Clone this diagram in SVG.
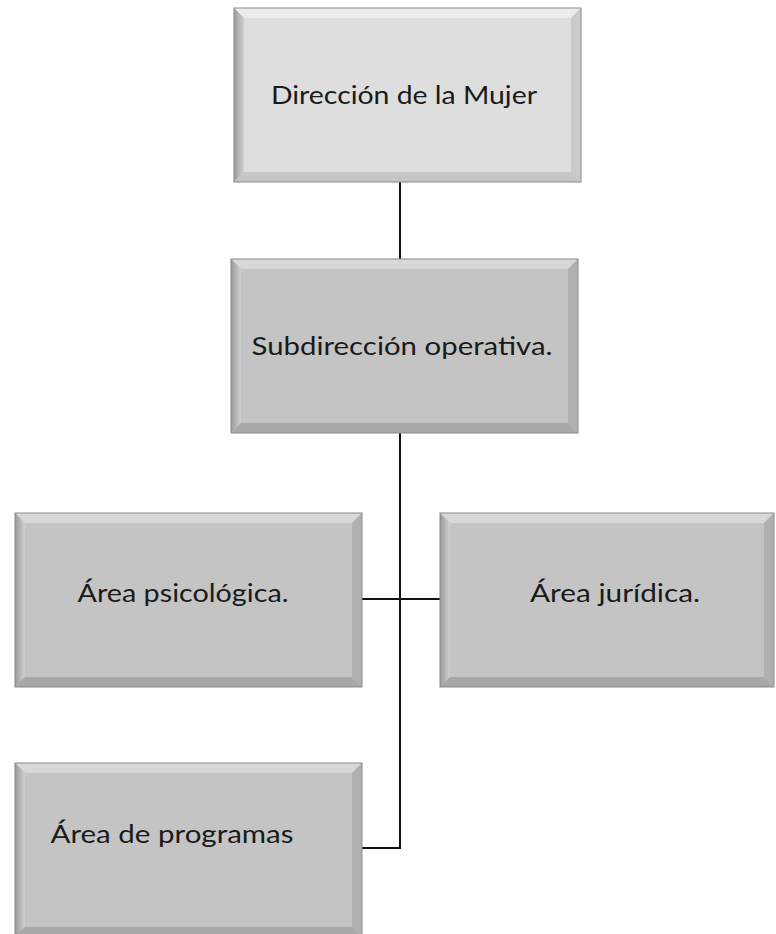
<svg xmlns="http://www.w3.org/2000/svg" width="776" height="934" viewBox="0 0 776 934">
<style>
  .face{fill:#c4c4c4}
  .face.light{fill:#dedede}
  .top{fill:#d8d8d8}
  .light .top{fill:#ececec}
  .left{fill:url(#leftGrad)}
  .bottom{fill:#a8a8a8}
  .light .bottom{fill:#c6c6c6}
  .right{fill:#b0b0b0}
  .light .right{fill:#cacaca}
  .edge{fill:none;stroke:#8a8a8a;stroke-width:1}
  .label{font-family:"Lato","Noto Sans","DejaVu Sans",sans-serif;font-size:25px;fill:#1a1a1a;text-anchor:middle}
  .conn{stroke:#111;stroke-width:2;fill:none}
</style>
<defs>
  <linearGradient id="leftGrad" x1="0" y1="0" x2="1" y2="0">
    <stop offset="0" stop-color="#9a9a9a"/>
    <stop offset="1" stop-color="#d0d0d0"/>
  </linearGradient>
</defs>
<rect width="776" height="934" fill="#ffffff"/>

<g id="connectors">
  <line class="conn" x1="400" y1="181" x2="400" y2="259"/>
  <polyline class="conn" points="400,433 400,848 362,848"/>
  <line class="conn" x1="362" y1="599" x2="440" y2="599"/>
</g>

<g id="direccion" class="light">
  <rect class="face light" x="234" y="8" width="347" height="174"/>
  <polygon class="top" points="234,8 581,8 571,18 244,18"/>
  <polygon class="left" points="234,8 244,18 244,172 234,182"/>
  <polygon class="bottom" points="234,182 244,172 571,172 581,182"/>
  <polygon class="right" points="581,8 581,182 571,172 571,18"/>
  <rect class="edge" x="234" y="8" width="347" height="174"/>
  <text class="label" x="404" y="104" textLength="266" lengthAdjust="spacingAndGlyphs">Dirección de la Mujer</text>
</g>

<g id="subdireccion">
  <rect class="face" x="231" y="259" width="347" height="174"/>
  <polygon class="top" points="231,259 578,259 568,269 241,269"/>
  <polygon class="left" points="231,259 241,269 241,423 231,433"/>
  <polygon class="bottom" points="231,433 241,423 568,423 578,433"/>
  <polygon class="right" points="578,259 578,433 568,423 568,269"/>
  <rect class="edge" x="231" y="259" width="347" height="174"/>
  <text class="label" x="402" y="355" textLength="301" lengthAdjust="spacingAndGlyphs">Subdirección operativa.</text>
</g>

<g id="psicologica">
  <rect class="face" x="15" y="513" width="347" height="174"/>
  <polygon class="top" points="15,513 362,513 352,523 25,523"/>
  <polygon class="left" points="15,513 25,523 25,677 15,687"/>
  <polygon class="bottom" points="15,687 25,677 352,677 362,687"/>
  <polygon class="right" points="362,513 362,687 352,677 352,523"/>
  <rect class="edge" x="15" y="513" width="347" height="174"/>
  <text class="label" x="183" y="602" textLength="211" lengthAdjust="spacingAndGlyphs">Área psicológica.</text>
</g>

<g id="juridica">
  <rect class="face" x="440" y="513" width="334" height="174"/>
  <polygon class="top" points="440,513 774,513 764,523 450,523"/>
  <polygon class="left" points="440,513 450,523 450,677 440,687"/>
  <polygon class="bottom" points="440,687 450,677 764,677 774,687"/>
  <polygon class="right" points="774,513 774,687 764,677 764,523"/>
  <rect class="edge" x="440" y="513" width="334" height="174"/>
  <text class="label" x="615" y="602" textLength="170" lengthAdjust="spacingAndGlyphs">Área jurídica.</text>
</g>

<g id="programas">
  <rect class="face" x="15" y="763" width="347" height="174"/>
  <polygon class="top" points="15,763 362,763 352,773 25,773"/>
  <polygon class="left" points="15,763 25,773 25,927 15,937"/>
  <polygon class="bottom" points="15,937 25,927 352,927 362,937"/>
  <polygon class="right" points="362,763 362,937 352,927 352,773"/>
  <rect class="edge" x="15" y="763" width="347" height="174"/>
  <text class="label" x="172" y="843" textLength="243" lengthAdjust="spacingAndGlyphs">Área de programas</text>
</g>
</svg>
